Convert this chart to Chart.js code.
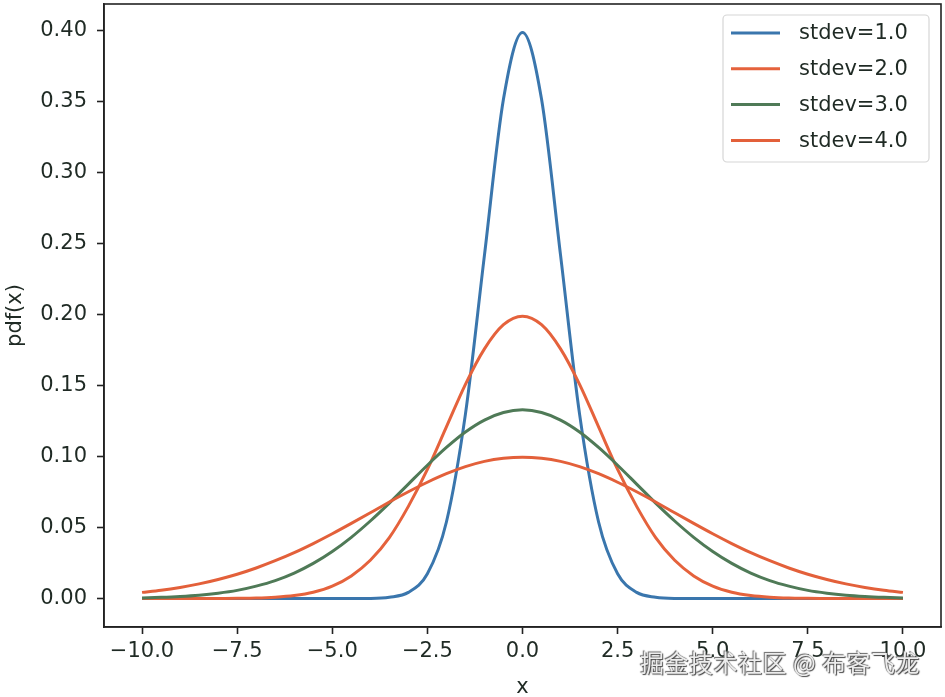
<!DOCTYPE html>
<html>
<head>
<meta charset="utf-8">
<script src="https://cdn.jsdelivr.net/npm/chart.js@4.4.1/dist/chart.umd.min.js"></script>
<style>
  html, body { margin: 0; padding: 0; background: #ffffff; }
  #wrap { position: relative; width: 945px; height: 697px; }
  #wm { position: absolute; left: 640px; top: 646px; font-family: "Noto Sans CJK SC", sans-serif; font-size: 24px; color: #ececec;
        text-shadow: 1px 1px 1px #444, -1px -1px 1px #666; white-space: nowrap; line-height: 32px; letter-spacing: 0.5px; }
</style>
</head>
<body>
<div id="wrap">
  <canvas id="c" width="945" height="697"></canvas>
  <div id="wm">掘金技术社区 @ 布客飞龙</div>
</div>
<script>
// ---- data ----
const xValues = [-10,-9.5,-9,-8.5,-8,-7.5,-7,-6.5,-6,-5.5,-5,-4.5,-4,-3.5,-3,-2.5,-2,-1.5,-1,-0.5,0,
                 0.5,1,1.5,2,2.5,3,3.5,4,4.5,5,5.5,6,6.5,7,7.5,8,8.5,9,9.5,10];
const stdev1 = [0,0,0,0,0,0,0,0,0,0,0,0,0.0001,0.001,0.0044,0.0175,0.054,0.130,0.242,0.352,0.399,
                0.352,0.242,0.130,0.054,0.0175,0.0044,0.001,0.0001,0,0,0,0,0,0,0,0,0,0,0,0];
const stdev2 = [0,0,0,0,0.0001,0.0002,0.0004,0.001,0.0022,0.0045,0.0088,0.016,0.027,0.043,0.065,0.091,0.121,0.151,0.176,0.193,0.199,
                0.193,0.176,0.151,0.121,0.091,0.065,0.043,0.027,0.016,0.0088,0.0045,0.0022,0.001,0.0004,0.0002,0.0001,0,0,0,0];
const stdev3 = [0.0005,0.0009,0.0015,0.0024,0.0038,0.0058,0.0088,0.0127,0.018,0.0248,0.0332,0.0432,0.0547,0.0673,0.0807,0.094,0.1065,0.1174,0.1258,0.1311,0.133,
                0.1311,0.1258,0.1174,0.1065,0.094,0.0807,0.0673,0.0547,0.0432,0.0332,0.0248,0.018,0.0127,0.0088,0.0058,0.0038,0.0024,0.0015,0.0009,0.0005];
const stdev4 = [0.0044,0.0059,0.0079,0.0104,0.0135,0.0172,0.0216,0.0267,0.0324,0.0388,0.0457,0.053,0.0605,0.0681,0.0753,0.082,0.088,0.093,0.0967,0.0989,0.0997,
                0.0989,0.0967,0.093,0.088,0.082,0.0753,0.0681,0.0605,0.053,0.0457,0.0388,0.0324,0.0267,0.0216,0.0172,0.0135,0.0104,0.0079,0.0059,0.0044];
const seriesNames = ['stdev=1.0','stdev=2.0','stdev=3.0','stdev=4.0'];
const xTickValues = [-10,-7.5,-5,-2.5,0,2.5,5,7.5,10];
const xTickLabels = ['\u221210.0','\u22127.5','\u22125.0','\u22122.5','0.0','2.5','5.0','7.5','10.0'];
const yTickValues = [0,0.05,0.10,0.15,0.20,0.25,0.30,0.35,0.40];
const yTickLabels = ['0.00','0.05','0.10','0.15','0.20','0.25','0.30','0.35','0.40'];

// ---- styling ----
const colors = ['#3a76ad','#e5623c','#4f7a57','#e3603a'];
const textColor = '#1f2a24';
const FONT = 'DejaVu Sans';
const seriesValues = [stdev1, stdev2, stdev3, stdev4];

const datasets = seriesValues.map((vals, i) => ({
  label: seriesNames[i],
  data: xValues.map((x, j) => ({x: x, y: vals[j]})),
  borderColor: colors[i],
  backgroundColor: colors[i],
  borderWidth: 3,
  pointRadius: 0,
  cubicInterpolationMode: 'monotone',
  fill: false,
  order: seriesValues.length - i
}));

const framePlugin = {
  id: 'frame',
  afterDatasetsDraw(chart) {
    const {ctx, chartArea: a} = chart;
    ctx.save();
    ctx.strokeStyle = '#222';
    ctx.lineWidth = 1.6;
    ctx.strokeRect(a.left, a.top, a.right - a.left, a.bottom - a.top);
    ctx.restore();
  }
};

const legendPlugin = {
  id: 'mplLegend',
  afterDraw(chart) {
    const ctx = chart.ctx;
    const bx = 723, by = 15, bw = 206, bh = 147, r = 4;
    ctx.save();
    ctx.globalAlpha = 0.85;
    ctx.fillStyle = '#ffffff';
    ctx.beginPath();
    ctx.roundRect(bx, by, bw, bh, r);
    ctx.fill();
    ctx.globalAlpha = 1;
    ctx.strokeStyle = '#d6d6d6';
    ctx.lineWidth = 1.2;
    ctx.stroke();
    ctx.font = '21px "' + FONT + '"';
    ctx.textBaseline = 'middle';
    ctx.textAlign = 'left';
    chart.data.datasets.forEach((ds, i) => {
      const y = 33 + i * 35.8;
      ctx.strokeStyle = ds.borderColor;
      ctx.lineWidth = 3;
      ctx.beginPath();
      ctx.moveTo(731, y);
      ctx.lineTo(780, y);
      ctx.stroke();
      ctx.fillStyle = textColor;
      ctx.fillText(ds.label, 799, y + 1);
    });
    ctx.restore();
  }
};

new Chart(document.getElementById('c'), {
  type: 'line',
  data: { datasets },
  options: {
    responsive: false,
    animation: false,
    layout: { padding: { top: 4, right: 4, left: 0, bottom: 0 } },
    plugins: { legend: { display: false }, tooltip: { enabled: false } },
    scales: {
      x: {
        type: 'linear',
        min: -11, max: 11,
        afterBuildTicks: s => { s.ticks = xTickValues.map(v => ({value: v})); },
        afterFit: s => { s.height = 70; s.paddingLeft = 0; s.paddingRight = 0; },
        ticks: {
          callback: (v, i) => xTickLabels[i],
          color: textColor, font: { family: FONT, size: 21 }, padding: 5,
          maxRotation: 0, autoSkip: false
        },
        grid: { drawOnChartArea: false, tickLength: 7, tickWidth: 1.6, color: '#222' },
        border: { display: true, color: '#222', width: 1.6 },
        title: { display: true, text: 'x', color: textColor, font: { family: FONT, size: 21 }, padding: { top: 0, bottom: -3 } }
      },
      y: {
        type: 'linear',
        min: -0.02, max: 0.419,
        afterBuildTicks: s => { s.ticks = yTickValues.map(v => ({value: v})); },
        afterFit: s => { s.width = 104; s.paddingTop = 0; s.paddingBottom = 0; },
        ticks: {
          callback: (v, i) => yTickLabels[i],
          color: textColor, font: { family: FONT, size: 21 }, padding: 10, autoSkip: false
        },
        grid: { drawOnChartArea: false, tickLength: 7, tickWidth: 1.6, color: '#222' },
        border: { display: true, color: '#222', width: 1.6 },
        title: { display: true, text: 'pdf(x)', color: textColor, font: { family: FONT, size: 21 }, padding: { top: 3, bottom: 0 } }
      }
    }
  },
  plugins: [framePlugin, legendPlugin]
});
</script>
</body>
</html>
